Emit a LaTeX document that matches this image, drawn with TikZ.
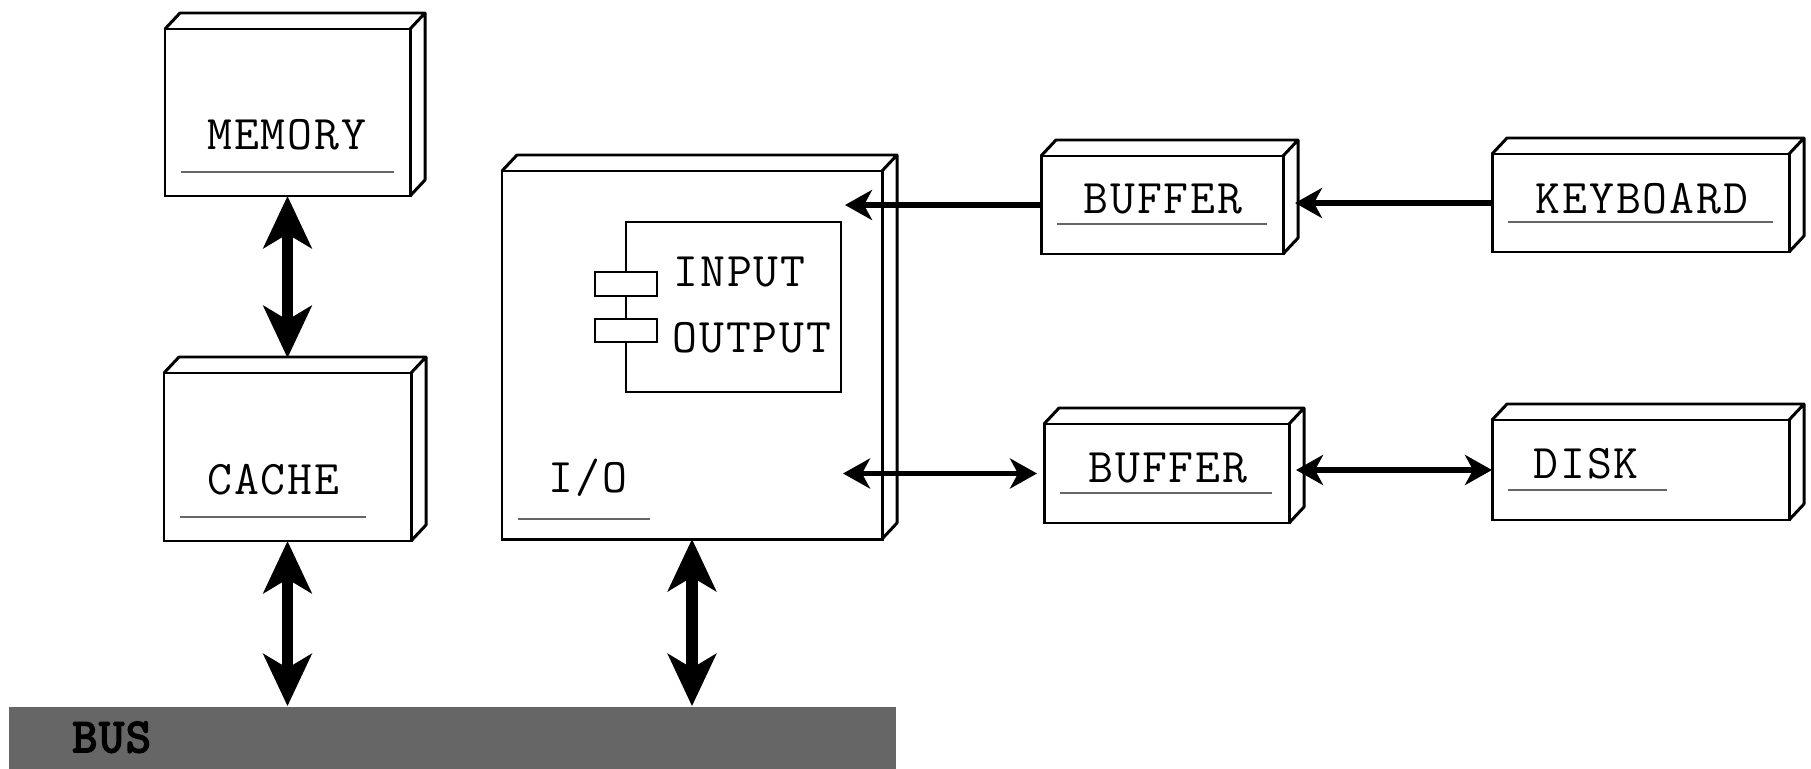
\documentclass[tikz,border=0pt]{standalone}
\usepackage{fontspec}
\setmonofont{Latin Modern Mono}[LetterSpace=4]
\newfontfamily\busfont{Latin Modern Mono}[FakeBold=4, LetterSpace=4]
\usetikzlibrary{arrows.meta,calc}
\tikzset{
  box/.style={draw=black, line width=1.7pt, fill=white, inner sep=0pt, outer sep=0pt},
  lbl/.style={inner sep=0pt, font=\fontsize{27.5}{32}\selectfont\ttfamily},
  uline/.style={draw=black!60, line width=0.9pt},
  port/.style={draw=black, line width=1.4pt, fill=white, inner sep=0pt, minimum width=12.4mm, minimum height=4.7mm},
  bighead/.tip={Stealth[length=10.4mm, width=9.6mm, inset=2.8mm]},
  smallhead/.tip={Stealth[length=5.4mm, width=6mm, inset=1.6mm]},
  bigarrow/.style={line width=6.3pt, bighead-bighead},
  smallarrow/.style={line width=3.4pt, -smallhead},
  bothways/.style={line width=3.4pt, smallhead-smallhead}
}
\begin{document}
\begin{tikzpicture}[x=0.2mm, y=-0.2mm]
    \useasboundingbox (0,0) rectangle (1811,769);
    \node [box, minimum width=49mm, minimum height=33.4mm] (memory) at (287.5,112.5) {};
    \node [box, minimum width=49.4mm, minimum height=33.6mm] (cache) at (287.5,457) {};
    \node [box, minimum width=76mm, minimum height=73.6mm] (io) at (692,355) {};
    \node [box, minimum width=48.4mm, minimum height=19.6mm] (buf1) at (1162,205) {};
    \node [box, minimum width=59.4mm, minimum height=19.6mm] (kbd) at (1640.5,203) {};
    \node [box, minimum width=49mm, minimum height=19.8mm] (buf2) at (1166.5,473.5) {};
    \node [box, minimum width=59.4mm, minimum height=20mm] (disk) at (1640.5,470) {};
    \foreach \n in {memory,cache,io,buf1,kbd,buf2,disk}
        \draw [black, line width=1.7pt, line join=round] (\n.north west) -- ++(15,-16) -- ($(\n.north east)+(15,-16)$) -- ($(\n.south east)+(15,-16)$) -- (\n.south east) (\n.north east) -- ++(15,-16);
    \node [fill=black!60, inner sep=0pt, minimum width=177.4mm, minimum height=12.6mm] (bus) at (452.5,738) {};
    \node [box, line width=1.4pt, minimum width=43mm, minimum height=34mm] (comp) at (733.5,307) {};
    \node [port] (port1) at (comp.west |- 0,284) {};
    \node [port] (port2) at (comp.west |- 0,330.5) {};
    \node [lbl, anchor=base west] (memory text) at (207,150) {MEMORY};
    \draw [uline] (181,172) -- (394,172);
    \node [lbl, anchor=base west] (cache text) at (207,494) {CACHE};
    \draw [uline] (180,517) -- (366,517);
    \node [lbl, anchor=base west] (io text) at (548,492) {I/O};
    \draw [uline] (518,519) -- (650,519);
    \node [lbl, anchor=base west] (input text) at (673,286) {INPUT};
    \node [lbl, anchor=base west] (output text) at (672,352) {OUTPUT};
    \node [lbl, anchor=base] (buf1 text) at (1163,214) {BUFFER};
    \draw [uline] (1057,224) -- (1267,224);
    \node [lbl, anchor=base] (kbd text) at (1642,214) {KEYBOARD};
    \draw [uline] (1508,222) -- (1773,222);
    \node [lbl, anchor=base] (buf2 text) at (1168,482) {BUFFER};
    \draw [uline] (1060,493) -- (1272,493);
    \node [lbl, anchor=base west] (disk text) at (1533,478) {DISK};
    \draw [uline] (1508,490) -- (1667,490);
    \node [lbl, anchor=base west, font=\fontsize{27.5}{32}\selectfont\busfont] (bus text) at (72,752) {BUS};
    \draw [bigarrow] (memory.south) -- ($(cache.north)+(0,-15)$);
    \draw [bigarrow] (cache.south) -- (cache.south |- bus.north);
    \draw [bigarrow] (io.south) -- (io.south |- bus.north);
    \draw [smallarrow] (buf1.west) -- ($(io.east |- buf1.west)+(-37,0)$);
    \draw [smallarrow] (kbd.west) -- ($(buf1.east |- kbd.west)+(12,0)$);
    \draw [bothways] ($(io.east |- buf2.west)+(-39,0)$) -- ($(buf2.west)+(-7,0)$);
    \draw [bothways] ($(buf2.east |- disk.west)+(7,0)$) -- (disk.west);
\end{tikzpicture}
\end{document}
